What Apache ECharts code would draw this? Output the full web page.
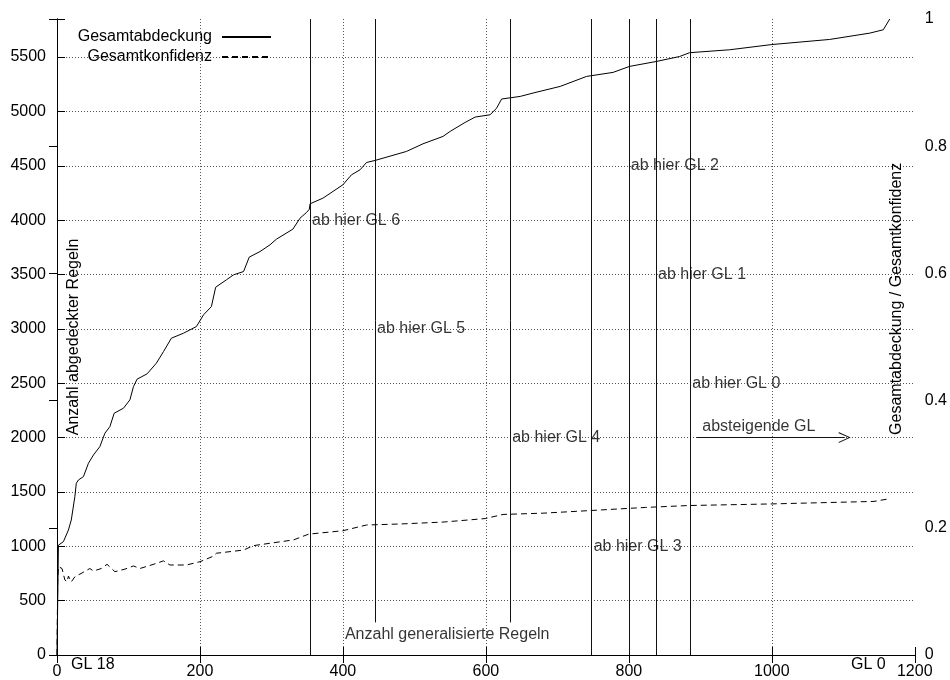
<!DOCTYPE html>
<html>
<head>
<meta charset="utf-8">
<script src="https://cdn.jsdelivr.net/npm/echarts@6/dist/echarts.min.js"></script>
<style>
  html, body { margin: 0; padding: 0; background: #fff; }
  #chart { width: 950px; height: 680px; }
</style>
</head>
<body>
<div id="chart"></div>
<script>
// Gesamtabdeckung: Anzahl abgedeckter Regeln über der Anzahl generalisierter Regeln
const coverageX = [0, 2, 9, 16, 20, 25, 27, 30, 37, 44, 51, 60, 67, 74, 80, 93, 102, 107, 112, 126,
  139, 149, 160, 177, 195, 205, 216, 222, 237, 247, 261, 269, 284, 298, 307, 330, 340, 349, 353, 354,
  372, 400, 412, 424, 433, 445, 489, 512, 540, 550, 571, 585, 606, 615, 622, 648, 666, 704, 741, 778,
  801, 839, 871, 885, 941, 1000, 1081, 1137, 1156, 1165];
const coverageY = [0, 1010, 1043, 1150, 1242, 1457, 1580, 1610, 1641, 1764, 1840, 1917, 2040, 2101, 2224, 2270, 2347, 2469, 2537, 2586,
  2684, 2791, 2914, 2960, 3021, 3129, 3205, 3383, 3451, 3497, 3527, 3660, 3711, 3773, 3825, 3917, 4018, 4070, 4100, 4150,
  4202, 4325, 4417, 4463, 4530, 4549, 4632, 4702, 4770, 4816, 4899, 4948, 4969, 5030, 5114, 5138, 5169, 5230, 5322, 5359,
  5414, 5460, 5505, 5540, 5567, 5615, 5662, 5720, 5751, 5850];

// Gesamtkonfidenz (rechte Achse, 0..1)
const confidenceX = [0, 1, 2, 7, 11, 14, 16, 20, 25, 35, 46, 51, 62, 70, 81, 95, 107, 116, 139, 149,
  158, 181, 200, 218, 223, 261, 275, 331, 352, 400, 433, 480, 540, 599, 624, 680, 744, 823, 883, 998,
  1143, 1166];
const confidenceY = [0, 0.12, 0.139, 0.136, 0.118, 0.115, 0.124, 0.115, 0.123, 0.129, 0.136, 0.132, 0.136, 0.1426, 0.131, 0.135, 0.140, 0.136, 0.144, 0.148,
  0.1415, 0.1415, 0.1467, 0.155, 0.160, 0.165, 0.172, 0.181, 0.190, 0.1954, 0.2044, 0.206, 0.209, 0.2145, 0.221, 0.223, 0.227, 0.232, 0.235, 0.2375,
  0.2415, 0.246];

// Achsen
const xTickLabels = [0, 200, 400, 600, 800, 1000, 1200];
const leftTickLabels = [0, 500, 1000, 1500, 2000, 2500, 3000, 3500, 4000, 4500, 5000, 5500];
const rightTickLabels = [0, 0.2, 0.4, 0.6, 0.8, 1];
const leftMax = 5850;

// Grenzen der Generalisierungslevel
const levelX = [354, 445, 634, 748, 800, 838, 886];
const levelText = ['ab hier GL 6', 'ab hier GL 5', 'ab hier GL 4', 'ab hier GL 3', 'ab hier GL 2', 'ab hier GL 1', 'ab hier GL 0'];
const levelTextY = [4000, 3000, 2000, 1000, 4500, 3500, 2500];
const levelLineFrom = [0, 300, 300, 0, 0, 0, 0];

// Pfeil "absteigende GL"
const arrowText = 'absteigende GL';
const arrowTextPos = [900, 2100];
const arrowFrom = [895, 2000];
const arrowTo = [1102, 2000];

// weitere Beschriftungen
const xNameText = 'Anzahl generalisierte Regeln';
const xNamePos = [400, 190];
const endLabels = ['GL 18', 'GL 0'];
const endLabelX = [50, 1135];
const leftName = 'Anzahl abgedeckter Regeln';
const rightName = 'Gesamtabdeckung / Gesamtkonfidenz';
const rightNameY = 0.56;

const FONT = '"Liberation Sans", Arial, Helvetica, sans-serif';
const BLACK = '#000';
const gridDots = { color: '#555', width: 1, type: [1, 2] };
const zip = (a, b) => a.map((v, i) => [v, b[i]]);

const chart = echarts.init(document.getElementById('chart'), null, { renderer: 'canvas' });

const textItems = levelX.map((x, i) => ({ name: levelText[i], value: [x, levelTextY[i]] }));

const option = {
  animation: false,
  backgroundColor: '#fff',
  textStyle: { fontFamily: FONT },
  grid: { left: 57, right: 35, top: 19, bottom: 25, containLabel: false },
  legend: {
    data: ['Gesamtabdeckung', 'Gesamtkonfidenz'],
    orient: 'vertical',
    align: 'right',
    right: 678,
    top: 29,
    padding: 0,
    itemWidth: 49,
    itemHeight: 14,
    itemGap: 4,
    selectedMode: false,
    itemStyle: { opacity: 0 },
    textStyle: { fontSize: 16, color: BLACK, fontFamily: FONT, padding: [0, 5, 0, 0] }
  },
  xAxis: [
    {
      type: 'value', min: 0, max: 1200, interval: 200, position: 'bottom',
      axisLine: { show: true, lineStyle: { color: BLACK, width: 1 } },
      axisTick: { show: true, inside: true, length: 8, lineStyle: { color: BLACK } },
      axisLabel: {
        fontSize: 16, color: BLACK, fontFamily: FONT, margin: 9,
        formatter: v => xTickLabels.includes(v) ? String(v) : ''
      },
      splitLine: { show: true, showMinLine: false, showMaxLine: false, lineStyle: gridDots }
    },
    {
      type: 'value', min: 0, max: 1200, interval: 200, position: 'top',
      axisLine: { show: true, lineStyle: { color: BLACK, width: 1 } },
      axisTick: { show: true, inside: true, length: 8, lineStyle: { color: BLACK } },
      axisLabel: { show: false },
      splitLine: { show: false }
    }
  ],
  yAxis: [
    {
      type: 'value', min: 0, max: leftMax, interval: 500, position: 'left',
      axisLine: { show: true, lineStyle: { color: BLACK, width: 1 } },
      axisTick: { show: true, inside: true, length: 8, lineStyle: { color: BLACK } },
      axisLabel: {
        fontSize: 16, color: BLACK, fontFamily: FONT, margin: 11,
        formatter: v => leftTickLabels.includes(v) ? String(v) : ''
      },
      splitLine: { show: true, showMinLine: false, showMaxLine: false, lineStyle: gridDots }
    },
    {
      type: 'value', min: 0, max: 1, interval: 0.2, position: 'right',
      axisLine: { show: true, lineStyle: { color: BLACK, width: 1 } },
      axisTick: { show: true, inside: true, length: 8, lineStyle: { color: BLACK } },
      axisLabel: {
        fontSize: 16, color: BLACK, fontFamily: FONT, margin: 10,
        formatter: v => rightTickLabels.includes(+v.toFixed(3)) ? String(+v.toFixed(3)) : ''
      },
      splitLine: { show: false }
    }
  ],
  series: [
    {
      name: 'Gesamtabdeckung', type: 'line', xAxisIndex: 0, yAxisIndex: 0,
      data: zip(coverageX, coverageY),
      symbol: 'none', smooth: false, z: 4,
      lineStyle: { color: BLACK, width: 1 },
      itemStyle: { color: BLACK }
    },
    {
      name: 'Gesamtkonfidenz', type: 'line', xAxisIndex: 0, yAxisIndex: 1,
      data: zip(confidenceX, confidenceY),
      symbol: 'none', smooth: false, z: 4,
      lineStyle: { color: BLACK, width: 1, type: [6, 4] },
      itemStyle: { color: BLACK }
    },
    {
      name: 'GL-Grenzen', type: 'scatter', xAxisIndex: 0, yAxisIndex: 0,
      symbol: 'circle', symbolSize: 0, silent: true, z: 5,
      itemStyle: { color: 'transparent' },
      data: textItems.concat([
        { name: arrowText, value: arrowTextPos },
        { name: xNameText, value: xNamePos }
      ]),
      label: {
        show: true, position: 'right', distance: 2,
        formatter: p => p.name,
        fontSize: 16, color: BLACK, fontFamily: FONT
      },
      markLine: {
        silent: true,
        symbol: ['none', 'none'],
        label: { show: false },
        lineStyle: { color: '#111', width: 1, type: 'solid' },
        emphasis: { disabled: true },
        data: levelX.map((x, i) => [
          { coord: [x, levelLineFrom[i]] },
          { coord: [x, leftMax] }
        ]).concat([[
          { coord: arrowFrom, symbol: 'none' },
          { coord: arrowTo, symbol: 'path://M0,12 L6,0 L12,12 L10.8,12 L6,2.2 L1.2,12 Z', symbolSize: [11, 12] }
        ]])
      }
    }
  ]
};

chart.setOption(option);

// Beschriftungen außerhalb der Datenpunkte, verankert an Achsenpositionen
const toPx = (x, y, yIdx) => chart.convertToPixel({ xAxisIndex: 0, yAxisIndex: yIdx || 0 }, [x, y]);
const bottomY = toPx(0, 0)[1];
const leftX = toPx(0, 0)[0];
const rightX = toPx(1200, 0)[0];
const midY = (toPx(0, 0)[1] + toPx(0, leftMax)[1]) / 2;
const textStyleBase = { fill: BLACK, fontSize: 16, fontFamily: FONT };

const graphics = endLabels.map((t, i) => ({
  type: 'text', silent: true,
  x: toPx(endLabelX[i], 0)[0], y: bottomY + 10,
  style: Object.assign({ text: t, align: 'center', verticalAlign: 'middle' }, textStyleBase)
}));
graphics.push({
  type: 'text', silent: true,
  x: leftX + 17, y: midY, rotation: Math.PI / 2,
  style: Object.assign({ text: leftName, align: 'center', verticalAlign: 'middle' }, textStyleBase)
});
graphics.push({
  type: 'text', silent: true,
  x: rightX - 18, y: toPx(0, rightNameY, 1)[1], rotation: Math.PI / 2,
  style: Object.assign({ text: rightName, align: 'center', verticalAlign: 'middle' }, textStyleBase)
});
chart.setOption({ graphic: graphics });
</script>
</body>
</html>
